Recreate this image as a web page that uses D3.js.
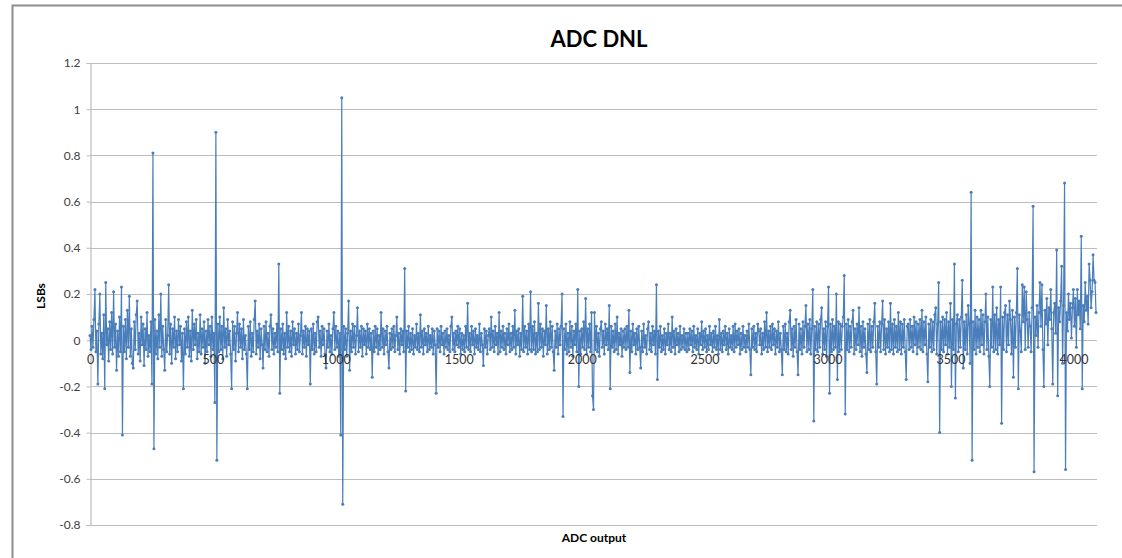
<!DOCTYPE html>
<html><head><meta charset="utf-8">
<script src="https://cdn.jsdelivr.net/npm/d3@7"></script>
<style>body{margin:0;background:#fff}svg{display:block}</style>
</head><body>
<svg id="c" width="1122" height="558"></svg>
<script>
// ADC DNL, one sample every 4 output codes (code = index * codeStep)
const codeStep = 4;
const dnl = [].concat(
[.02,-.04,.06,-.03,.09,.22,-.05,.04,-.19,.07,.20,-.06,.03,-.08,.11,-.21,.25,-.02,.05,-.09,.08,-.04,.12,-.06,.21,-.03,.07,-.13,.04,-.07,.10,-.05],
[.23,-.41,.06,-.05,.09,-.08,.13,-.03,.19,-.07,.05,-.10,-.12,.08,-.04,.11,.17,-.06,.03,-.09,.10,-.02,.07,-.11,.05,-.04,.12,-.07,.02,-.05,.08,-.19],
[.81,-.47,.09,-.06,.04,-.08,.11,-.03,.20,-.07,.06,-.04,-.13,.09,-.05,.02,.24,-.06,.07,-.10,.05,-.03,.10,-.08,.04,-.05,.09,-.02,.06,-.09,.03,-.21],
[.05,-.06,.08,-.03,.10,-.07,.04,-.09,.13,-.04,.07,-.02,.09,-.08,.03,-.05,.11,-.06,.05,-.03,.08,-.10,.04,-.05,.09,-.02,.06,-.07,.10,-.04,.03,-.27],
[.90,-.52,.07,-.05,.10,-.04,.06,-.08,.14,-.03,.05,-.07,.09,-.02,.04,-.06,-.21,.08,-.04,.06,-.09,.03,.12,-.05,.07,-.03,.05,-.08,.09,-.04,.02,-.06],
[-.21,.06,-.04,.08,-.07,.03,-.05,.09,.17,-.06,.04,-.03,.07,-.08,.05,-.02,-.12,.06,-.04,.08,-.05,.03,-.07,.06,.11,-.04,.05,-.06,.03,-.03,.07,-.05],
[.33,-.23,.05,-.04,.07,-.06,.03,-.08,.12,-.03,.06,-.05,.04,-.07,.08,-.02,.05,-.06,.03,-.04,.07,-.05,.02,.12,-.06,.04,-.03,.06,-.07,.05,-.02,.04],
[-.19,.05,-.04,.07,-.06,.03,-.05,.08,.10,-.03,.04,-.07,.06,-.02,.05,-.06,-.12,.04,-.03,.07,-.05,.02,-.06,.05,.12,-.04,.06,-.03,.04,-.07,.03,-.41],
[1.05,-.71,.06,-.04,.05,-.07,.03,.17,-.13,.04,-.05,.07,-.03,.06,-.06,.02,.14,-.05,.04,-.03,.06,-.07,.05,-.02,.04,-.06,.07,-.03,.05,-.04,.03,-.16],
[.04,-.05,.06,-.03,.05,-.06,.02,-.04,.12,-.03,.05,-.06,.04,-.02,.06,-.05,-.12,.03,-.04,.05,-.03,.06,-.05,.02,.10,-.04,.03,-.06,.05,-.02,.04,-.05],
[.31,-.22,.04,-.03,.06,-.05,.03,-.04,.05,-.06,.02,-.03,.07,-.04,.03,-.05,.11,-.03,.04,-.06,.05,-.02,.03,-.05,.06,-.04,.02,-.03,.05,-.06,.04,-.02],
[-.23,.05,-.03,.04,-.05,.06,-.02,.03,-.06,.04,-.03,.05,-.04,.02,-.05,.06,.10,-.04,.03,-.05,.04,-.02,.06,-.03,.05,-.06,.03,-.04,.02,-.05,.06,-.03],
[.16,-.04,.03,-.05,.06,-.02,.04,-.06,.05,-.03,.02,-.04,.07,-.05,.03,-.02,-.11,.05,-.03,.04,-.06,.02,.05,-.04,.10,-.03,.04,-.05,.06,-.02,.03,-.06],
[.12,-.05,.04,-.03,.06,-.04,.03,-.06,.05,-.02,.07,-.05,.03,-.04,.06,-.03,.13,-.06,.04,-.02,.05,-.07,.03,-.04,.19,-.05,.06,-.03,.04,-.06,.07,-.04],
[.21,-.05,.06,-.04,.08,-.06,.03,-.05,.16,-.04,.07,-.03,.05,-.07,.04,-.02,.15,-.06,.05,-.04,.08,-.03,.06,-.05,-.13,.04,-.03,.07,-.06,.05,-.02,.06],
[.20,-.33,.05,-.04,.07,-.06,.03,-.05,.08,-.03,.06,-.07,.04,-.02,.07,-.05,.22,-.20,.04,-.06,.05,-.03,.08,-.04,.18,-.06,.05,-.03,.07,-.05,.12,-.24],
[-.30,.12,-.04,.06,-.05,.03,-.07,.05,.08,-.03,.04,-.06,.07,-.02,.05,-.04,.15,-.21,.06,-.03,.04,-.05,.07,-.04,.10,-.06,.03,-.02,.05,-.07,.04,-.03],
[.05,-.04,.06,-.03,.13,-.14,.04,-.05,.07,-.02,.03,-.06,.05,-.04,.06,-.03,-.12,.04,-.05,.07,-.03,.02,-.06,.05,.08,-.04,.03,-.05,.06,-.02,.04,-.06],
[.24,-.17,.04,-.03,.06,-.05,.02,-.04,.05,-.06,.03,-.02,.07,-.04,.03,-.05,.10,-.03,.04,-.06,.05,-.02,.03,-.05,.06,-.04,.02,-.03,.05,-.04,.03,-.05],
[.03,-.04,.05,-.02,.04,-.05,.06,-.03,.02,-.04,.05,-.06,.03,-.02,.08,-.04,.04,-.03,.05,-.05,.02,-.04,.06,-.02,.03,-.05,.04,-.03,.06,-.04,.02,-.06],
[.09,-.04,.03,-.05,.04,-.02,.06,-.04,.03,-.06,.05,-.03,.02,-.04,.06,-.05,.07,-.03,.04,-.02,.05,-.06,.03,-.04,.06,-.03,.02,-.05,.04,-.03,.07,-.04],
[-.15,.05,-.03,.06,-.04,.03,-.05,.07,.04,-.02,.05,-.06,.03,-.04,.08,-.03,.12,-.05,.04,-.03,.06,-.04,.07,-.02,.05,-.06,.04,-.03,.08,-.05,.03,-.04],
[-.15,.06,-.04,.07,-.05,.03,-.06,.08,.13,-.04,.05,-.07,.06,-.03,.09,-.05,-.15,.07,-.04,.05,-.06,.08,-.03,.06,.15,-.05,.07,-.04,.09,-.06,.05,.22],
[-.35,.06,-.04,.08,-.05,.07,-.03,.09,.14,-.06,.05,-.04,.08,-.07,.06,.23,-.23,.07,-.05,.09,-.04,.06,-.03,.20,-.17,.08,-.05,.07,-.04,.06,.10,.28],
[-.32,.07,-.04,.09,-.05,.06,-.03,.08,.13,-.06,.05,-.04,.07,-.02,.14,-.05,.06,-.07,.08,-.03,.05,-.06,-.14,.07,-.04,.09,-.05,.06,-.03,.08,.16,-.05],
[-.19,.06,-.03,.08,-.05,.07,.17,-.04,.09,-.06,.05,-.03,.08,-.05,.16,-.04,.07,-.06,.09,-.03,.06,-.05,.12,-.04,.08,-.06,.07,-.03,.09,-.05,-.17,.06],
[.07,-.04,.09,-.03,.06,-.05,.10,-.02,.08,-.06,.07,-.03,.09,-.04,.13,-.05,.08,-.02,.10,-.06,-.18,.07,-.03,.09,-.05,.08,-.04,.11,.14,-.06,.07,.25],
[-.40,.08,-.04,.10,-.05,.09,-.02,.12,-.06,.08,-.03,.16,-.20,.09,-.04,.33,-.25,.07,.11,-.05,.09,-.03,.10,.26,-.12,.08,-.04,.11,-.06,.15,.07,-.10],
[.64,-.52,.08,-.04,.13,-.06,.10,-.03,.09,-.05,.13,-.02,.11,-.06,.08,.20,-.04,.10,-.07,-.20,.09,-.03,.23,-.05,.11,-.04,.14,-.06,.09,-.02,.23,-.36],
[.10,-.04,.12,.15,-.05,.11,-.02,.17,.09,-.06,.13,-.16,.10,-.03,.12,.31,-.21,.11,.04,-.05,.24,.08,.23,-.04,.21,.09,-.03,.12,.06,-.05,.14,.58],
[-.57,.10,.02,.15,-.03,.12,.25,.06,.24,-.04,-.20,.13,.07,.18,-.02,.14,.09,.22,.05,-.19,.12,.16,.03,.39,-.24,.14,.08,.17,.32,-.10,.15,.68],
[-.56,.12,.04,.20,.09,.16,.01,.14,.22,.06,.18,-.03,.22,.11,.17,.05,.45,-.21,.15,.08,.25,.13,.19,.07,.33,.26,.14,.21,.37,.26,.25,.12]
);
const xTicks = [0, 500, 1000, 1500, 2000, 2500, 3000, 3500, 4000];
const yTicks = [-0.8, -0.6, -0.4, -0.2, 0, 0.2, 0.4, 0.6, 0.8, 1, 1.2];
const titleText = "ADC DNL";
const xLabel = "ADC output";
const yLabel = "LSBs";

const svg = d3.select("#c");
const font = "Lato, 'Open Sans', sans-serif";
const L = 90, R = 1097, T = 63, B = 525;
const x = d3.scaleLinear().domain([0, 4096]).range([L, R]);
const y = d3.scaleLinear().domain([-0.8, 1.2]).range([B, T]);

// outer frame
svg.append("rect").attr("x", 12.5).attr("y", 5.5).attr("width", 1122).attr("height", 560)
  .attr("fill", "#fff").attr("stroke", "#8c8c8c").attr("stroke-width", 2);

// gridlines
svg.append("g").selectAll("line").data(yTicks).join("line")
  .attr("x1", L).attr("x2", R)
  .attr("y1", d => Math.round(y(d)) + 0.5).attr("y2", d => Math.round(y(d)) + 0.5)
  .attr("stroke", "#bdbdbd").attr("stroke-width", 1.2);

// y axis
const yAxis = svg.append("g").attr("transform", `translate(${L + 0.5},0)`)
  .call(d3.axisLeft(y).tickValues(yTicks).tickSize(4).tickPadding(6).tickFormat(d => String(+d.toFixed(1))));
yAxis.select(".domain").attr("stroke", "#bdbdbd").attr("stroke-width", 1.2);
yAxis.selectAll(".tick line").attr("stroke", "#bdbdbd");
yAxis.selectAll("text").attr("font-family", font).attr("font-size", 12).attr("fill", "#404040");

// data
const pts = dnl.map((v, i) => [i * codeStep, v]);
svg.append("path").datum(pts)
  .attr("fill", "none").attr("stroke", "#4a7ebb").attr("stroke-width", 1.2)
  .attr("d", d3.line().x(d => x(d[0])).y(d => y(d[1])));
svg.append("g").selectAll("circle").data(pts).join("circle")
  .attr("cx", d => x(d[0])).attr("cy", d => y(d[1])).attr("r", 1.5)
  .attr("fill", "#4a7ebb");

// x axis labels at zero, on top of the data
const xAxis = svg.append("g").attr("transform", `translate(0,${y(0)})`)
  .call(d3.axisBottom(x).tickValues(xTicks).tickSize(0).tickPadding(15).tickFormat(d3.format("d")));
xAxis.select(".domain").remove();
xAxis.selectAll("text").attr("font-family", font).attr("font-size", 12.5).attr("fill", "#333");

// titles
svg.append("text").attr("x", 599).attr("y", 47).attr("text-anchor", "middle")
  .attr("font-family", font).attr("font-weight", "bold").attr("font-size", 22).attr("fill", "#000")
  .text(titleText);
svg.append("text").attr("x", 594).attr("y", 542).attr("text-anchor", "middle")
  .attr("font-family", font).attr("font-weight", "bold").attr("font-size", 12).attr("fill", "#000")
  .text(xLabel);
svg.append("text").attr("transform", "translate(45,296) rotate(-90)").attr("text-anchor", "middle")
  .attr("font-family", font).attr("font-weight", "bold").attr("font-size", 12).attr("fill", "#000")
  .text(yLabel);
</script>
</body></html>
